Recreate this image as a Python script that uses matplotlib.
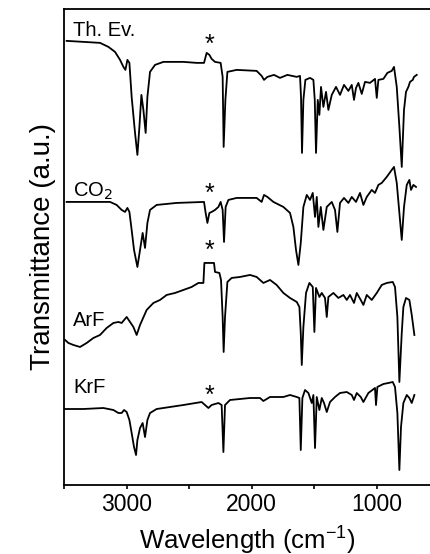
import matplotlib

matplotlib.use("Agg")

import matplotlib.pyplot as plt
import numpy as np

plt.rcParams["font.family"] = ["Liberation Sans", "DejaVu Sans"]

# wavenumber (cm^-1) and transmittance (a.u., offset traces)
thev_w = [3481, 3347, 3214, 3147, 3094, 3054, 3027, 3011, 2995, 2979, 2961, 2934,
          2915, 2899, 2883, 2867, 2849, 2835, 2814, 2774, 2707, 2547, 2441, 2382,
          2361, 2339, 2321, 2294, 2249, 2233, 2225, 2211, 2195, 2121, 1961, 1921,
          1902, 1875, 1822, 1774, 1715, 1640, 1614, 1606, 1598, 1587, 1571, 1534,
          1507, 1496, 1486, 1472, 1459, 1446, 1427, 1406, 1387, 1360, 1326, 1294,
          1262, 1227, 1200, 1182, 1166, 1147, 1120, 1094, 1054, 1014, 1000, 987,
          947, 915, 880, 862, 840, 819, 800, 782, 766, 747, 734, 712, 702, 680]
thev_t = [4.44, 4.43, 4.42, 4.38, 4.33, 4.25, 4.18, 4.15, 4.25, 4.22, 3.88, 3.52,
          3.30, 3.58, 3.90, 3.75, 3.52, 3.88, 4.13, 4.20, 4.23, 4.23, 4.22, 4.22,
          4.32, 4.30, 4.26, 4.23, 4.22, 4.08, 3.38, 3.85, 4.13, 4.15, 4.14, 4.09,
          4.05, 4.08, 4.10, 4.07, 4.10, 4.08, 4.09, 3.88, 3.32, 3.85, 4.05, 4.07,
          4.05, 3.85, 3.32, 3.85, 3.70, 3.98, 3.78, 3.93, 3.75, 3.90, 3.98, 3.90,
          4.00, 3.94, 4.00, 3.85, 3.97, 4.02, 3.91, 4.03, 4.02, 4.06, 3.87, 4.05,
          4.06, 4.12, 4.14, 4.18, 3.98, 3.58, 3.18, 3.75, 3.93, 3.98, 4.03, 4.05,
          4.08, 4.10]

co2_w = [3481, 3134, 3081, 3041, 3014, 2995, 2979, 2961, 2942, 2915, 2894, 2873,
         2854, 2835, 2814, 2761, 2601, 2382, 2369, 2355, 2339, 2321, 2294, 2267,
         2249, 2233, 2222, 2209, 2187, 2121, 1961, 1921, 1902, 1875, 1827, 1747,
         1694, 1667, 1646, 1627, 1608, 1587, 1560, 1534, 1512, 1494, 1480, 1467,
         1448, 1427, 1400, 1360, 1334, 1315, 1294, 1262, 1227, 1200, 1166, 1134,
         1107, 1080, 1040, 1014, 987, 960, 920, 880, 862, 840, 819, 800, 782, 760,
         739, 726, 707, 686]
co2_t = [2.83, 2.83, 2.80, 2.75, 2.73, 2.77, 2.73, 2.55, 2.35, 2.18, 2.35, 2.52,
         2.37, 2.62, 2.75, 2.80, 2.82, 2.83, 2.72, 2.62, 2.72, 2.73, 2.75, 2.78,
         2.83, 2.75, 2.43, 2.78, 2.85, 2.87, 2.87, 2.83, 2.90, 2.88, 2.83, 2.78,
         2.72, 2.58, 2.35, 2.20, 2.42, 2.78, 2.90, 2.85, 2.92, 2.68, 2.88, 2.58,
         2.78, 2.55, 2.78, 2.83, 2.75, 2.53, 2.82, 2.87, 2.82, 2.88, 2.83, 2.92,
         2.80, 2.88, 2.95, 2.92, 3.00, 3.02, 3.08, 3.15, 3.18, 3.02, 2.72, 2.45,
         2.78, 3.00, 3.05, 2.95, 3.00, 2.98]

arf_w = [3494, 3467, 3427, 3374, 3321, 3267, 3214, 3161, 3107, 3067, 3041, 3001,
         2974, 2947, 2921, 2894, 2841, 2787, 2734, 2681, 2614, 2547, 2481, 2427,
         2387, 2379, 2302, 2294, 2259, 2246, 2233, 2225, 2214, 2195, 2161, 2094,
         2014, 1961, 1907, 1854, 1801, 1747, 1694, 1640, 1619, 1608, 1600, 1587,
         1566, 1539, 1512, 1499, 1486, 1459, 1440, 1414, 1400, 1387, 1347, 1307,
         1267, 1240, 1214, 1182, 1160, 1128, 1107, 1080, 1040, 1000, 960, 920,
         872, 854, 835, 819, 800, 787, 766, 739, 720, 699]
arf_t = [1.45, 1.42, 1.40, 1.38, 1.42, 1.47, 1.50, 1.57, 1.62, 1.63, 1.62, 1.68,
         1.63, 1.58, 1.50, 1.60, 1.75, 1.82, 1.85, 1.90, 1.92, 1.95, 1.98, 2.02,
         2.02, 2.22, 2.22, 2.13, 2.12, 2.05, 1.68, 1.33, 1.68, 2.03, 2.07, 2.08,
         2.10, 2.08, 2.02, 2.05, 2.00, 1.92, 1.87, 1.83, 1.78, 1.52, 1.20, 1.58,
         1.92, 2.02, 1.98, 1.53, 1.97, 1.88, 1.92, 1.87, 1.68, 1.88, 1.92, 1.87,
         1.90, 1.85, 1.90, 1.82, 1.92, 1.85, 1.80, 1.90, 1.85, 1.92, 2.00, 2.02,
         2.03, 1.98, 1.68, 1.03, 1.52, 1.78, 1.87, 1.85, 1.70, 1.50]

krf_w = [3502, 3347, 3187, 3107, 3067, 3041, 3022, 3001, 2979, 2961, 2942, 2926,
         2915, 2894, 2873, 2854, 2835, 2814, 2761, 2547, 2401, 2374, 2347, 2321,
         2267, 2241, 2227, 2214, 2174, 2014, 1934, 1907, 1854, 1747, 1694, 1640,
         1619, 1608, 1595, 1574, 1547, 1520, 1507, 1494, 1480, 1459, 1440, 1422,
         1400, 1374, 1334, 1294, 1240, 1200, 1182, 1160, 1128, 1107, 1067, 1014,
         1006, 995, 947, 907, 872, 854, 835, 819, 806, 787, 760, 739, 720, 699]
krf_t = [0.76, 0.76, 0.77, 0.75, 0.72, 0.72, 0.75, 0.73, 0.65, 0.52, 0.38, 0.30,
         0.45, 0.57, 0.62, 0.48, 0.65, 0.72, 0.76, 0.80, 0.83, 0.80, 0.77, 0.80,
         0.82, 0.80, 0.33, 0.80, 0.85, 0.87, 0.87, 0.84, 0.88, 0.88, 0.90, 0.88,
         0.87, 0.35, 0.87, 0.95, 0.92, 0.82, 0.90, 0.37, 0.88, 0.75, 0.87, 0.82,
         0.73, 0.83, 0.88, 0.92, 0.93, 0.90, 0.85, 0.92, 0.88, 0.83, 0.92, 0.97,
         0.80, 0.98, 1.01, 1.02, 1.03, 0.98, 0.72, 0.15, 0.58, 0.82, 0.90, 0.87,
         0.82, 0.90]

trace_names = ["Th. Ev.", "CO$_2$", "ArF", "KrF"]
name_pos = [4.54, 2.94, 1.64, 0.97]
star_pos = [4.40, 2.91, 2.34, 0.89]
star_w = 2340

fig = plt.figure(figsize=(4.3, 5.54), dpi=100)
ax = fig.add_axes([0.1495, 0.1245, 0.8505, 0.8595])

for w, t in [(thev_w, thev_t), (co2_w, co2_t), (arf_w, arf_t), (krf_w, krf_t)]:
    ax.plot(w, t, color="black", lw=1.3)

for name, yn, ys in zip(trace_names, name_pos, star_pos):
    ax.text(3430, yn, name, fontsize=14.5, ha="left", va="center")
    ax.text(star_w, ys, "*", fontsize=18, ha="center", va="center")

ax.set_xlim(3500, 574)
ax.set_ylim(0, 4.76)
ax.set_xticks([3000, 2000, 1000])
ax.set_xticks([3500, 2500, 1500], minor=True)
ax.tick_params(axis="x", which="both", direction="out", length=3, width=1.2,
               labelsize=16.5, pad=3)
ax.set_yticks([])
ax.spines["right"].set_visible(False)
for s in ["left", "top", "bottom"]:
    ax.spines[s].set_linewidth(1.3)

ax.set_xlabel("Wavelength (cm$^{\\mathregular{-1}}$)", fontsize=18.5, labelpad=4.5)
ax.set_ylabel("Transmittance (a.u.)", fontsize=20, labelpad=6)

fig.savefig("out.png", dpi=100)
